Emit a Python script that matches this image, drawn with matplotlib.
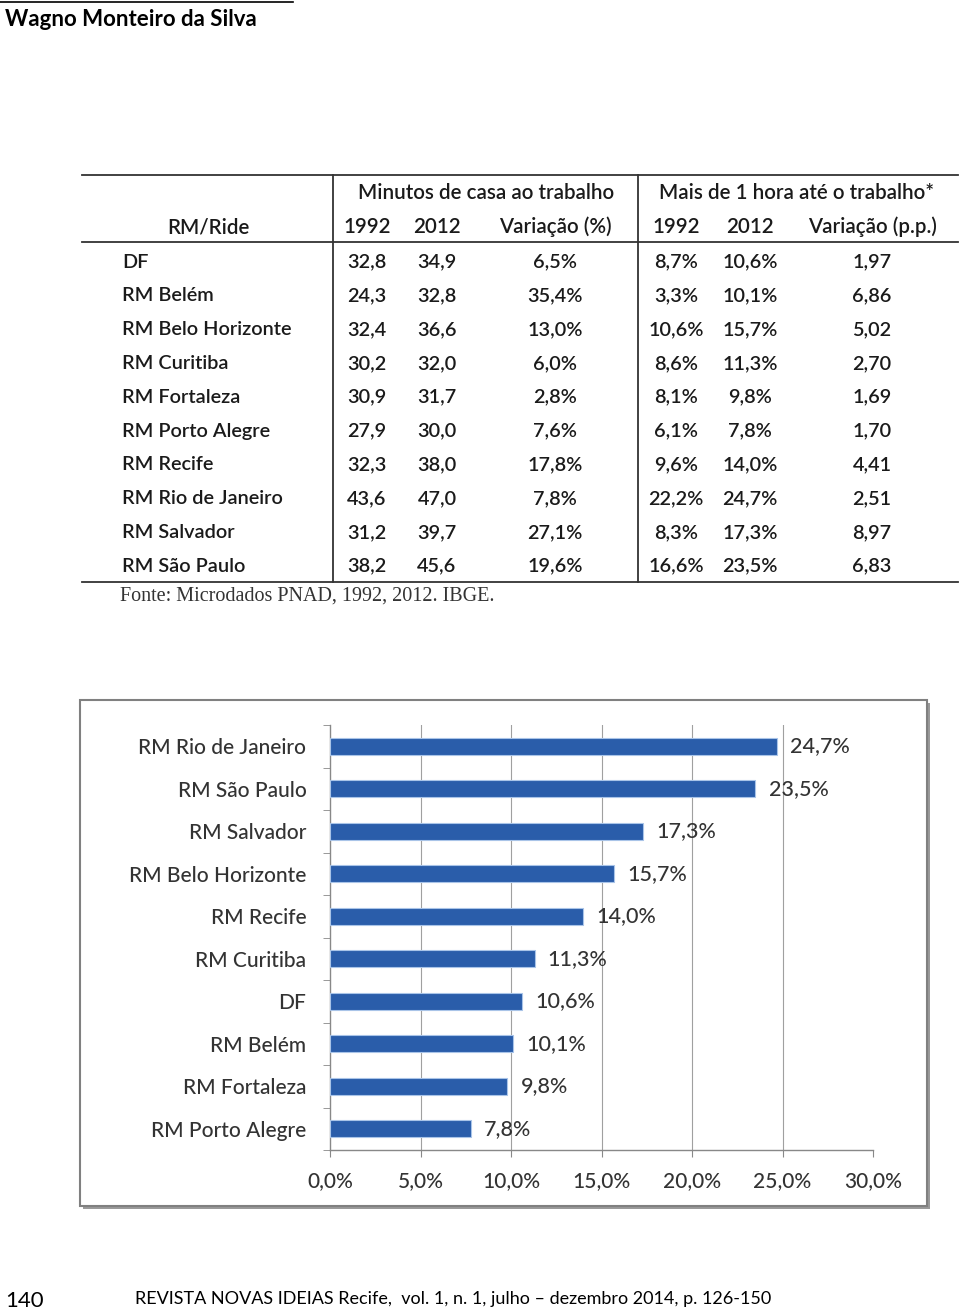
import matplotlib
matplotlib.use("Agg")
import matplotlib.pyplot as plt
from matplotlib.patches import Rectangle
from matplotlib.lines import Line2D

# ---------------- data ----------------
regions = ["DF", "RM Belém", "RM Belo Horizonte", "RM Curitiba", "RM Fortaleza",
           "RM Porto Alegre", "RM Recife", "RM Rio de Janeiro", "RM Salvador", "RM São Paulo"]
min_1992 = [32.8, 24.3, 32.4, 30.2, 30.9, 27.9, 32.3, 43.6, 31.2, 38.2]
min_2012 = [34.9, 32.8, 36.6, 32.0, 31.7, 30.0, 38.0, 47.0, 39.7, 45.6]
min_var_pct = [6.5, 35.4, 13.0, 6.0, 2.8, 7.6, 17.8, 7.8, 27.1, 19.6]
hora_1992 = [8.7, 3.3, 10.6, 8.6, 8.1, 6.1, 9.6, 22.2, 8.3, 16.6]
hora_2012 = [10.6, 10.1, 15.7, 11.3, 9.8, 7.8, 14.0, 24.7, 17.3, 23.5]
hora_var_pp = [1.97, 6.86, 5.02, 2.70, 1.69, 1.70, 4.41, 2.51, 8.97, 6.83]

chart_labels = ["RM Rio de Janeiro", "RM São Paulo", "RM Salvador", "RM Belo Horizonte",
                "RM Recife", "RM Curitiba", "DF", "RM Belém", "RM Fortaleza", "RM Porto Alegre"]
chart_values = [24.7, 23.5, 17.3, 15.7, 14.0, 11.3, 10.6, 10.1, 9.8, 7.8]
x_ticks = [0, 5, 10, 15, 20, 25, 30]

FONT = ["Lato", "DejaVu Sans"]
W, H = 960, 1311

def br(v, d=1, pct=False):
    s = f"{v:.{d}f}".replace(".", ",")
    return s + ("%" if pct else "")

fig = plt.figure(figsize=(W / 100, H / 100), dpi=100)
fig.patch.set_facecolor("white")

pg = fig.add_axes([0, 0, 1, 1])
pg.set_xlim(0, W)
pg.set_ylim(H, 0)
pg.axis("off")

# header
pg.add_line(Line2D([0, 293], [1.5, 1.5], color="black", lw=1.2))
pg.text(5, 20, "Wagno Monteiro da Silva", family=FONT, fontsize=16, fontweight="bold",
        va="center", ha="left", color="black")

# ---------------- table ----------------
tc = "#1a1a1a"
TW = "semibold"
pg.add_line(Line2D([82, 958], [175, 175], color="#333333", lw=1.3))
pg.add_line(Line2D([82, 958], [242, 242], color="#333333", lw=1.3))
pg.add_line(Line2D([82, 958], [582, 582], color="#333333", lw=1.3))
for xv in (333, 638):
    pg.add_line(Line2D([xv, xv], [175, 582], color="#333333", lw=1.3))

fs_t = 14.3
fs_h = 14.8
pg.text(486, 193, "Minutos de casa ao trabalho", family=FONT, fontsize=fs_h, fontweight=TW,
        ha="center", va="center", color=tc)
pg.text(797, 193, "Mais de 1 hora até o trabalho*", family=FONT, fontsize=fs_h, fontweight=TW,
        ha="center", va="center", color=tc)
pg.text(208, 227, "RM/Ride", family=FONT, fontsize=fs_h, fontweight=TW, ha="center", va="center", color=tc)
col_x = [367, 437, 555, 676, 750, 872]
for xh, lab in zip(col_x, ["1992", "2012", "Variação (%)", "1992", "2012", "Variação (p.p.)"]):
    pg.text(xh, 227, lab, family=FONT, fontsize=fs_h, fontweight=TW, ha="center", va="center", color=tc)

row_y0, row_dy = 262, 33.8
for i, name in enumerate(regions):
    y = row_y0 + i * row_dy
    kw = dict(family=FONT, fontsize=fs_t, fontweight=TW, va="center", color=tc)
    pg.text(122, y, name, ha="left", **kw)
    cells = [br(min_1992[i]), br(min_2012[i]), br(min_var_pct[i], pct=True),
             br(hora_1992[i], pct=True), br(hora_2012[i], pct=True), br(hora_var_pp[i], d=2)]
    for xc, s in zip(col_x, cells):
        pg.text(xc, y, s, ha="center", **kw)

pg.text(120, 596, "Fonte: Microdados PNAD, 1992, 2012. IBGE.", family=["Liberation Serif"],
        fontsize=14.5, ha="left", va="center", color="#333333")

# chart frame
pg.add_patch(Rectangle((83, 703), 847, 506, facecolor="#9a9a9a", edgecolor="none", zorder=0))
pg.add_patch(Rectangle((80, 700), 847, 506, facecolor="white", edgecolor="#808080", lw=1.5, zorder=1))

# footer
pg.text(5, 1301, "140", family=FONT, fontsize=16, ha="left", va="center", color="black")
pg.text(135, 1299, "REVISTA NOVAS IDEIAS Recife,  vol. 1, n. 1, julho – dezembro 2014, p. 126-150",
        family=FONT, fontsize=13, ha="left", va="center", color="black")

# ---------------- bar chart ----------------
left, right = 330 / W, 873 / W
top, bottom = 1 - 725 / H, 1 - 1150 / H
ax = fig.add_axes([left, bottom, right - left, top - bottom])
ax.set_zorder(3)
ax.patch.set_alpha(0)
pos = list(range(len(chart_labels)))
for xv in x_ticks[1:-1]:
    ax.axvline(xv, color="#a0a0a0", lw=0.8, zorder=0)
ax.barh(pos, chart_values, height=0.4, color="#2A5DAA", edgecolor="#A9C4E8", linewidth=0.8, zorder=3)
ax.set_xlim(0, 30)
ax.set_ylim(len(chart_labels) - 0.5, -0.5)
CW = "medium"
ax.set_xticks(x_ticks)
ax.set_xticklabels([br(v, pct=True) for v in x_ticks], family=FONT, fontsize=15, fontweight=CW, color="#333333")
ax.set_yticks(pos)
ax.set_yticklabels(chart_labels, family=FONT, fontsize=15, fontweight=CW, color="#333333")
ax.set_yticks([p + 0.5 for p in [-1] + pos], minor=True)
ax.tick_params(axis="y", which="major", length=0, pad=17)
ax.tick_params(axis="y", which="minor", length=5, color="#888888", direction="out")
ax.tick_params(axis="x", which="major", length=5, color="#888888", direction="out", pad=10)
for s in ("top", "right"):
    ax.spines[s].set_visible(False)
for s in ("left", "bottom"):
    ax.spines[s].set_color("#888888")
    ax.spines[s].set_linewidth(1.0)
for p, v in zip(pos, chart_values):
    ax.annotate(br(v, pct=True), (v, p), xytext=(9.5, 0), textcoords="offset points",
                ha="left", va="center", family=FONT, fontsize=15.5, fontweight=CW, color="#333333")

fig.savefig("out.png", dpi=100, facecolor="white")
